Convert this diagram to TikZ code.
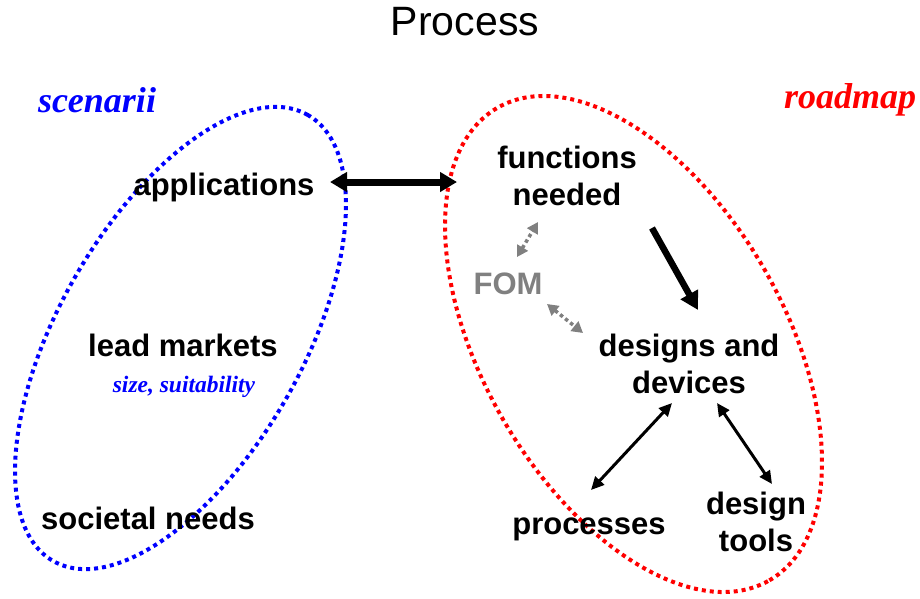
\documentclass[tikz,border=0pt]{standalone}
\usepackage{fontspec}
\setmainfont{Liberation Sans}
\newfontfamily\tms{Liberation Serif}
\usetikzlibrary{arrows.meta}
\definecolor{fomgray}{RGB}{128,128,128}
\begin{document}
\begin{tikzpicture}[x=1pt,y=1pt,
  lbl/.style={font=\fontsize{31}{37}\selectfont\bfseries, inner sep=0pt, align=center},
  tag/.style={font=\fontsize{36}{40}\selectfont\tms\bfseries\itshape, inner sep=0pt},
  ell/.style={line width=4pt, dash pattern=on 4pt off 4pt},
  bigdbl/.style={line width=7pt, {Triangle[length=17pt,width=19pt]}-{Triangle[length=17pt,width=19pt]}},
  bigone/.style={line width=6.5pt, -{Triangle[length=18pt,width=19pt]}},
  thindbl/.style={line width=3pt, {Triangle[length=13pt,width=12pt]}-{Triangle[length=13pt,width=12pt]}},
  fomdbl/.style={line width=3.5pt, fomgray, dash pattern=on 3.5pt off 3pt, {Triangle[length=11pt,width=12pt]}-{Triangle[length=11pt,width=12pt]}}]
\useasboundingbox (0,0) rectangle (920,-598);
\fill[white] (0,0) rectangle (920,-598);
% title
\node[inner sep=0pt, font=\fontsize{41}{45}\selectfont] (title) at (465,-22) {Process};
% ellipses
\draw[ell, blue, rotate around={60.3:(180.5,-338)}] (180.5,-338) ellipse [x radius=256.8pt, y radius=121.8pt];
\draw[ell, red, rotate around={-60.1:(633.5,-344)}] (633.5,-344) ellipse [x radius=272.6pt, y radius=150.7pt];
% tags
\node[tag, blue] (scen) at (97,-100) {scenarii};
\node[tag, red] (road) at (850,-100) {roadmap};
% labels
\node[lbl] (app) at (224,-187) {applications};
\node[lbl] (lead) at (183,-345) {lead markets};
\node[inner sep=0pt, blue, font=\fontsize{23.5}{26}\selectfont\tms\bfseries\itshape] (size) at (184,-387) {size, suitability};
\node[lbl] (soc) at (148,-518) {societal needs};
\node[lbl] (func) at (567,-176) {functions\\needed};
\node[lbl, fomgray] (fom) at (508,-284) {FOM};
\node[lbl] (des) at (689,-364) {designs and\\devices};
\node[lbl] (proc) at (589,-529) {processes};
\node[lbl] (tools) at (756,-522) {design\\tools};
% arrow ends
\coordinate (appE) at (330,-182);
\coordinate (roadW) at (457,-182);
\coordinate (funcS) at (652,-228);
\coordinate (desN) at (698,-310);
\coordinate (fomN) at (517,-257);
\coordinate (funcSW) at (538,-222);
\coordinate (fomSE) at (547,-304);
\coordinate (desW) at (583,-333);
\coordinate (desS1) at (672,-403);
\coordinate (procN) at (591,-490);
\coordinate (desS2) at (717,-403);
\coordinate (toolsN) at (772,-484);
% connectors
\draw[bigdbl] (appE) -- (roadW);
\draw[bigone] (funcS) -- (desN);
\draw[fomdbl] (fomN) -- (funcSW);
\draw[fomdbl] (fomSE) -- (desW);
\draw[thindbl] (desS1) -- (procN);
\draw[thindbl] (desS2) -- (toolsN);
\end{tikzpicture}
\end{document}
